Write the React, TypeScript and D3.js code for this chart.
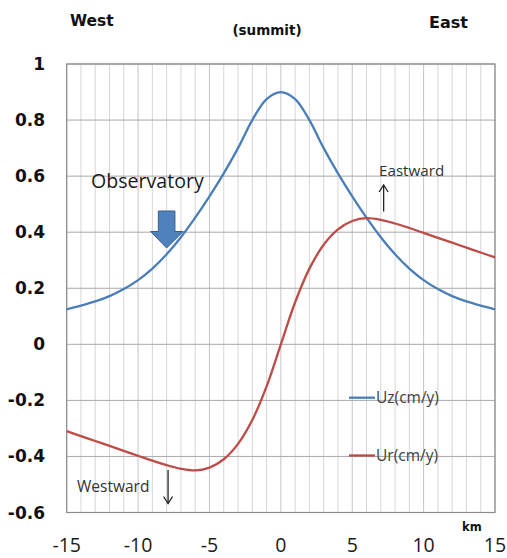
import * as d3 from "d3";

const distanceKm = d3.range(-15, 16);
const uzValues = [
  0.125, 0.138, 0.153, 0.172, 0.197, 0.229, 0.27, 0.321, 0.382, 0.452, 0.528,
  0.61, 0.7, 0.8, 0.875, 0.9, 0.875, 0.8, 0.7, 0.61, 0.528, 0.452, 0.382,
  0.321, 0.27, 0.229, 0.197, 0.172, 0.153, 0.138, 0.125,
];
const urValues = [
  -0.31, -0.3275, -0.345, -0.3625, -0.38, -0.3975, -0.415, -0.431, -0.444,
  -0.45, -0.44, -0.41, -0.355, -0.27, -0.15, 0, 0.15, 0.27, 0.355, 0.41, 0.44,
  0.45, 0.444, 0.431, 0.415, 0.3975, 0.38, 0.3625, 0.345, 0.3275, 0.31,
];
const xTicks = [-15, -10, -5, 0, 5, 10, 15];
const yTicks = [-0.6, -0.4, -0.2, 0, 0.2, 0.4, 0.6, 0.8, 1];
const seriesNames = ["Uz(cm/y)", "Ur(cm/y)"];
const seriesColors = ["#4a7ebb", "#be4b48"];

const W = 507;
const H = 558;

export default function App() {
  const x = d3.scaleLinear().domain([-15, 15]).range([66.7, 495]);
  const y = d3.scaleLinear().domain([-0.6, 1]).range([512.5, 64]);

  const line = d3
    .line<[number, number]>()
    .x((d) => x(d[0]))
    .y((d) => y(d[1]))
    .curve(d3.curveCatmullRom.alpha(0.5));

  const series = [uzValues, urValues].map((vals) =>
    distanceKm.map((k, i) => [k, vals[i]] as [number, number]),
  );

  // Excel style labels: plain hyphen, no trailing zeros
  const fmtY = (v: number) => String(+v.toFixed(1));

  // block arrow pointing at the observatory (x = -8 km)
  const ax = x(-8);
  const blockArrow = [
    [ax - 8.3, 211],
    [ax + 8.3, 211],
    [ax + 8.3, 231.5],
    [ax + 16.5, 231.5],
    [ax, 248],
    [ax - 16, 231.5],
    [ax - 8.3, 231.5],
  ];

  const eastX = x(7.2);
  const westX = x(-7.9);

  return (
    <svg
      width={W}
      height={H}
      style={{ position: "absolute", left: 0, top: 0, background: "#fff" }}
    >
      <rect width={W} height={H} fill="#fff" />

      {/* vertical minor gridlines */}
      {distanceKm.map((k) => (
        <line
          key={"v" + k}
          x1={x(k)}
          x2={x(k)}
          y1={y(1)}
          y2={y(-0.6)}
          stroke={k % 5 === 0 ? "#c4c4c4" : "#d6d6d6"}
          strokeWidth={1}
        />
      ))}
      {/* horizontal gridlines */}
      {yTicks.map((t) => (
        <line
          key={"h" + t}
          x1={x(-15)}
          x2={x(15)}
          y1={y(t)}
          y2={y(t)}
          stroke="#a8a8a8"
          strokeWidth={1}
        />
      ))}
      <rect
        x={x(-15)}
        y={y(1)}
        width={x(15) - x(-15)}
        height={y(-0.6) - y(1)}
        fill="none"
        stroke="#8c8c8c"
        strokeWidth={1.2}
      />

      {/* y tick labels */}
      {yTicks.map((t) => (
        <text
          key={"yl" + t}
          x={45}
          y={y(t) + 6}
          textAnchor="end"
          fontFamily="DejaVu Sans"
          fontWeight="bold"
          fontSize={17}
          fill="#111"
        >
          {fmtY(t)}
        </text>
      ))}
      {/* x tick labels */}
      {xTicks.map((t) => (
        <text
          key={"xl" + t}
          x={x(t)}
          y={552}
          textAnchor="middle"
          fontFamily="Open Sans"
          fontSize={19.5}
          fill="#1a1a1a"
        >
          {t}
        </text>
      ))}
      <text x={462} y={531} fontFamily="DejaVu Sans" fontWeight="bold" fontSize={11.5} fill="#111">
        km
      </text>

      {/* titles */}
      <text x={70} y={26} fontFamily="DejaVu Sans" fontWeight="bold" fontSize={15.5} fill="#111">
        West
      </text>
      <text x={267} y={35} textAnchor="middle" fontFamily="DejaVu Sans" fontWeight="bold" fontSize={13.5} fill="#111">
        (summit)
      </text>
      <text x={429} y={28} fontFamily="DejaVu Sans" fontWeight="bold" fontSize={16} fill="#111">
        East
      </text>

      {/* curves */}
      {series.map((s, i) => (
        <path
          key={"s" + i}
          d={line(s) ?? ""}
          fill="none"
          stroke={seriesColors[i]}
          strokeWidth={2.3}
        />
      ))}

      {/* legend */}
      {seriesNames.map((n, i) => (
        <g key={"lg" + i} transform={`translate(349,${i === 0 ? 397.7 : 455.5})`}>
          <line x1={0} x2={26} y1={0} y2={0} stroke={seriesColors[i]} strokeWidth={2.3} />
          <text x={27} y={5.5} fontFamily="Open Sans" fontSize={15.5} fill="#404040">
            {n}
          </text>
        </g>
      ))}

      {/* observatory annotation */}
      <text x={91} y={188} fontFamily="Open Sans" fontSize={19.6} fill="#1a1a1a">
        Observatory
      </text>
      <polygon
        points={blockArrow.map((p) => p.join(",")).join(" ")}
        fill="#4f81bd"
        stroke="#385d8a"
        strokeWidth={1}
      />

      {/* eastward / westward annotations */}
      <text x={379} y={176} fontFamily="Open Sans" fontSize={15.2} fill="#333">
        Eastward
      </text>
      <g stroke="#222" strokeWidth={1.3} fill="none">
        <line x1={eastX} x2={eastX} y1={211.5} y2={185} />
        <polyline points={`${eastX - 4.5},${192} ${eastX},${185} ${eastX + 4.5},${192}`} />
      </g>
      <text x={77} y={492} fontFamily="Open Sans" fontSize={15.5} fill="#333">
        Westward
      </text>
      <g stroke="#222" strokeWidth={1.3} fill="none">
        <line x1={westX} x2={westX} y1={470} y2={503.5} />
        <polyline points={`${westX - 4.5},${496.5} ${westX},${503.5} ${westX + 4.5},${496.5}`} />
      </g>
    </svg>
  );
}
